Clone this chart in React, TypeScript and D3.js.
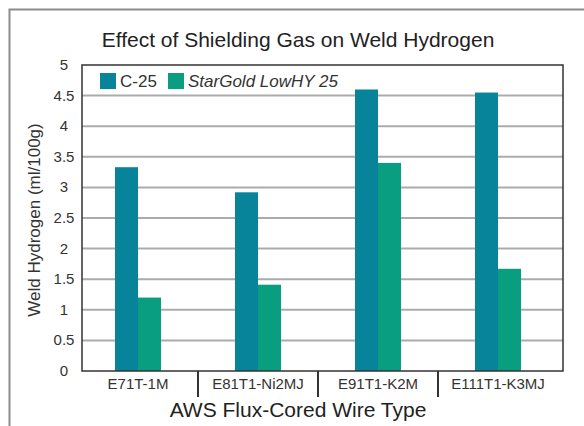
import React from "react";
import * as d3 from "d3";

const categories = ["E71T-1M", "E81T1-Ni2MJ", "E91T1-K2M", "E111T1-K3MJ"];
const seriesNames = ["C-25", "StarGold LowHY 25"];
const c25Values = [3.33, 2.92, 4.6, 4.55];
const starGoldValues = [1.2, 1.41, 3.4, 1.67];
const yTicks = [0, 0.5, 1, 1.5, 2, 2.5, 3, 3.5, 4, 4.5, 5];

const W = 584;
const H = 426;
const FONT = "'Liberation Sans', Arial, Helvetica, sans-serif";
const COLORS = ["#07849a", "#089e7f"];

export default function App() {
  const plotLeft = 82;
  const plotRight = 563;
  const plotTop = 65;
  const plotBottom = 371;

  const y = d3.scaleLinear().domain([0, 5]).range([plotBottom, plotTop]);
  const x = d3.scaleBand<string>().domain(categories).range([78, 558]);
  const inner = d3
    .scaleBand<string>()
    .domain(seriesNames)
    .range([0, 46])
    .paddingInner(0);
  const series = [c25Values, starGoldValues];

  return (
    <svg
      width={W}
      height={H}
      style={{ position: "absolute", left: 0, top: 0, display: "block", background: "#fff" }}
      fontFamily={FONT}
    >
      <rect x={0} y={0} width={W} height={H} fill="#fff" />
      {/* outer frame */}
      <path d={`M9.5,${H + 5} L9.5,9.5 L${W + 5},9.5`} fill="none" stroke="#8c8c8c" strokeWidth={2} />

      {/* title */}
      <text x={298} y={47} textAnchor="middle" fontSize={21} fill="#222">
        Effect of Shielding Gas on Weld Hydrogen
      </text>

      {/* gridlines */}
      {yTicks
        .filter((t) => t > 0 && t < 5)
        .map((t) => (
          <line
            key={t}
            x1={plotLeft}
            x2={plotRight}
            y1={y(t)}
            y2={y(t)}
            stroke="#ababab"
            strokeWidth={2}
          />
        ))}

      {/* bars */}
      {series.map((vals, si) =>
        categories.map((c, ci) => {
          const cx = (x(c) as number) + x.bandwidth() / 2 - 23;
          const bx = cx + (inner(seriesNames[si]) as number);
          return (
            <rect
              key={`${si}-${ci}`}
              x={bx}
              y={y(vals[ci])}
              width={inner.bandwidth()}
              height={y(0) - y(vals[ci])}
              fill={COLORS[si]}
            />
          );
        })
      )}

      {/* plot frame */}
      <rect
        x={plotLeft}
        y={plotTop}
        width={plotRight - plotLeft}
        height={plotBottom - plotTop}
        fill="none"
        stroke="#333"
        strokeWidth={1.5}
      />

      {/* category separators */}
      {categories.slice(1).map((c) => (
        <line
          key={c}
          x1={x(c) as number}
          x2={x(c) as number}
          y1={plotBottom}
          y2={397}
          stroke="#333"
          strokeWidth={2}
        />
      ))}

      {/* y tick labels */}
      {yTicks.map((t) => (
        <text key={t} x={64} y={y(t) + 5} textAnchor="middle" fontSize={15} fill="#333">
          {String(t)}
        </text>
      ))}

      {/* x tick labels */}
      {categories.map((c) => (
        <text
          key={c}
          x={(x(c) as number) + x.bandwidth() / 2}
          y={389}
          textAnchor="middle"
          fontSize={15}
          fill="#333"
        >
          {c}
        </text>
      ))}

      {/* axis titles */}
      <text
        transform={`translate(40,220) rotate(-90)`}
        textAnchor="middle"
        fontSize={17}
        fill="#333"
      >
        Weld Hydrogen (ml/100g)
      </text>
      <text x={298} y={417} textAnchor="middle" fontSize={21} fill="#222">
        AWS Flux-Cored Wire Type
      </text>

      {/* legend */}
      <rect x={100} y={73} width={16} height={16} fill={COLORS[0]} />
      <text x={120} y={87} fontSize={17} fill="#333">
        {seriesNames[0]}
      </text>
      <rect x={168} y={73} width={16} height={16} fill={COLORS[1]} />
      <text x={188} y={87} fontSize={17} fontStyle="italic" fill="#333">
        {seriesNames[1]}
      </text>
    </svg>
  );
}
